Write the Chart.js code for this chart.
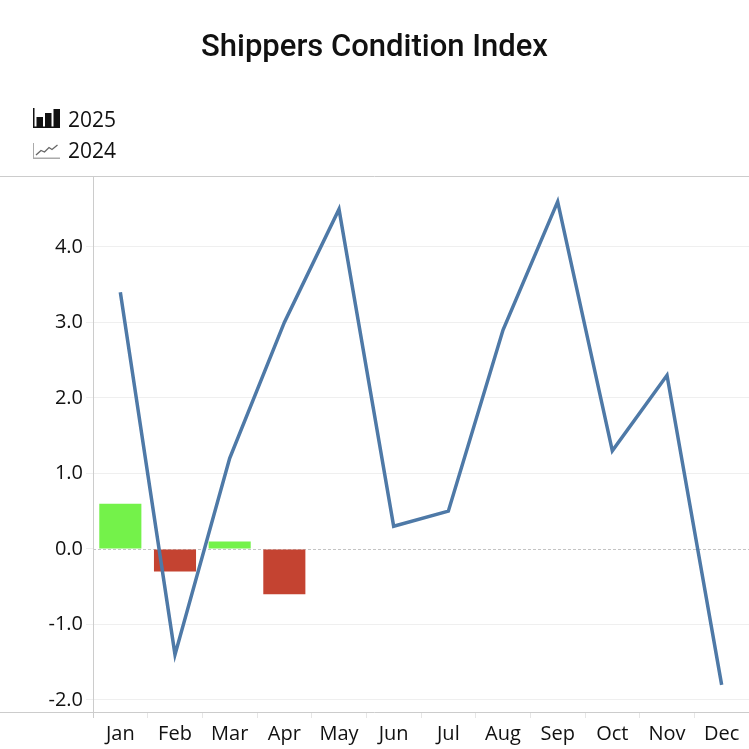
<!DOCTYPE html>
<html>
<head>
<meta charset="utf-8">
<script src="https://cdn.jsdelivr.net/npm/chart.js@4.4.1/dist/chart.umd.min.js"></script>
<style>
html,body{margin:0;padding:0;background:#fff;}
#wrap{width:749px;height:749px;position:relative;}
</style>
</head>
<body>
<div id="wrap"><canvas id="c" width="749" height="749"></canvas></div>
<script>
const months = ["Jan","Feb","Mar","Apr","May","Jun","Jul","Aug","Sep","Oct","Nov","Dec"];
const values2025 = [0.6, -0.3, 0.1, -0.6, null, null, null, null, null, null, null, null];
const values2024 = [3.4, -1.4, 1.2, 3.0, 4.5, 0.3, 0.5, 2.9, 4.6, 1.3, 2.3, -1.8];
const yTicks = [-2, -1, 0, 1, 2, 3, 4];
const titleText = "Shippers Condition Index";
const legendLabels = ["2025", "2024"];

const GREEN = "#74f24a", RED = "#c44331", BLUE = "#4e79a7";
const FONT = "'Open Sans', 'Noto Sans', sans-serif";

const decor = {
  id: 'decor',
  beforeDatasetsDraw(chart) {
    const {ctx, chartArea, scales} = chart;
    const y0 = scales.y.getPixelForValue(0);
    ctx.save();
    ctx.strokeStyle = '#c4c4c4';
    ctx.lineWidth = 1;
    ctx.setLineDash([3, 2]);
    ctx.beginPath();
    ctx.moveTo(chartArea.left, Math.round(y0) + 0.5);
    ctx.lineTo(chartArea.right, Math.round(y0) + 0.5);
    ctx.stroke();
    ctx.restore();
  },
  afterDraw(chart) {
    const {ctx, chartArea, width} = chart;
    ctx.save();
    ctx.strokeStyle = '#cccccc';
    ctx.lineWidth = 1;
    ctx.beginPath();
    ctx.moveTo(0, Math.round(chartArea.top) + 0.5);
    ctx.lineTo(width, Math.round(chartArea.top) + 0.5);
    ctx.moveTo(0, Math.round(chartArea.bottom) + 0.5);
    ctx.lineTo(width, Math.round(chartArea.bottom) + 0.5);
    ctx.moveTo(Math.round(chartArea.left) + 0.5, chartArea.top);
    ctx.lineTo(Math.round(chartArea.left) + 0.5, chartArea.bottom + 6);
    ctx.stroke();

    // title
    ctx.fillStyle = '#111';
    ctx.font = "500 31px 'Roboto', sans-serif";
    ctx.textAlign = 'center';
    ctx.textBaseline = 'alphabetic';
    ctx.fillText(titleText, width / 2, 56);

    // legend
    ctx.textAlign = 'left';
    ctx.font = "21px " + FONT;
    // bar icon
    ctx.fillStyle = '#111';
    ctx.fillRect(33, 108, 1.5, 20);
    ctx.fillRect(33, 126.5, 27, 1.5);
    ctx.fillRect(36.5, 117, 6.5, 10);
    ctx.fillRect(45, 113, 6.5, 14);
    ctx.fillRect(53.5, 109, 6.5, 18);
    ctx.fillText(legendLabels[0], 68, 127);
    // line icon
    ctx.fillStyle = '#aaa';
    ctx.fillRect(33, 143, 1, 16);
    ctx.fillRect(33, 157.5, 27, 1.5);
    ctx.strokeStyle = '#666';
    ctx.lineWidth = 1.3;
    ctx.beginPath();
    ctx.moveTo(36, 155);
    ctx.lineTo(41, 150.5);
    ctx.lineTo(44.5, 152);
    ctx.lineTo(49, 147.5);
    ctx.lineTo(52, 149.5);
    ctx.lineTo(57.5, 145);
    ctx.stroke();
    ctx.fillStyle = '#111';
    ctx.fillText(legendLabels[1], 68, 158);
    ctx.restore();
  }
};

new Chart(document.getElementById('c'), {
  data: {
    labels: months,
    datasets: [
      {
        type: 'line',
        label: legendLabels[1],
        data: values2024,
        borderColor: BLUE,
        borderWidth: 3.5,
        pointRadius: 0,
        tension: 0,
        order: 1
      },
      {
        type: 'bar',
        label: legendLabels[0],
        data: values2025,
        backgroundColor: values2025.map(v => v !== null && v < 0 ? RED : GREEN),
        categoryPercentage: 1,
        barPercentage: 0.77,
        order: 2
      }
    ]
  },
  options: {
    responsive: false,
    animation: false,
    devicePixelRatio: 1,
    layout: {padding: {top: 176, left: 0, right: 0, bottom: 0}},
    plugins: {legend: {display: false}, title: {display: false}, tooltip: {enabled: false}},
    scales: {
      x: {
        type: 'category',
        offset: true,
        grid: {offset: true, drawOnChartArea: false, drawTicks: true, tickLength: 6, tickColor: '#e6e6e6', color: '#e6e6e6'},
        border: {display: false},
        ticks: {color: '#111', font: {family: FONT, size: 20}, padding: 4, maxRotation: 0},
        afterFit(scale) { scale.height = 37; }
      },
      y: {
        min: -2.16,
        max: 4.94,
        afterBuildTicks(scale) { scale.ticks = yTicks.map(v => ({value: v})); },
        grid: {color: ctx => ctx.tick && ctx.tick.value === 0 ? 'rgba(0,0,0,0)' : '#efefef', tickLength: 7, tickColor: '#efefef'},
        border: {display: false},
        ticks: {color: '#111', font: {family: FONT, size: 20}, padding: 3, callback: v => Number(v).toFixed(1)},
        afterFit(scale) { scale.width = 93; }
      }
    }
  },
  plugins: [decor]
});
</script>
</body>
</html>
